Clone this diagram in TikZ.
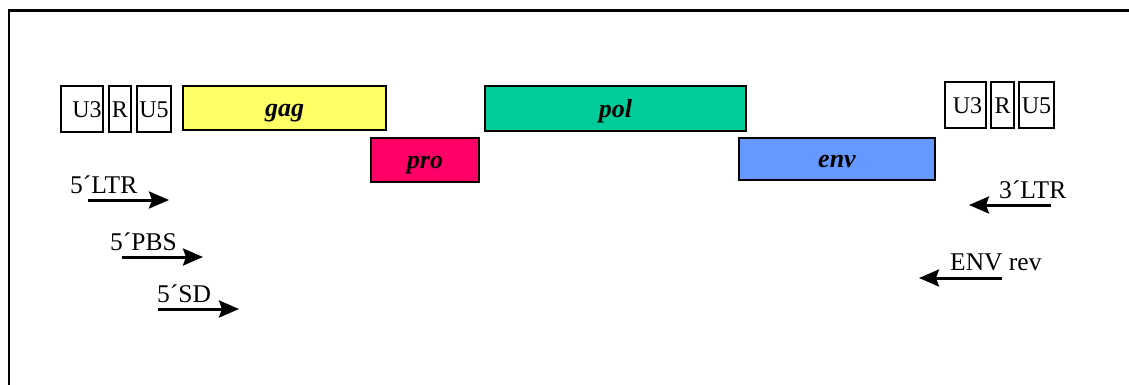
\documentclass[tikz,border=0pt]{standalone}
\usepackage{fontspec}
\setmainfont{Liberation Serif}
\usetikzlibrary{arrows.meta}
\definecolor{gagcol}{HTML}{FFFF66}
\definecolor{procol}{HTML}{FF0066}
\definecolor{polcol}{HTML}{00CC99}
\definecolor{envcol}{HTML}{6699FF}
\tikzset{
  ltrbox/.style={draw=black, line width=2.2pt, fill=white, inner sep=0pt,
    text height=16.6pt, text depth=0pt,
    font=\fontsize{24}{28}\selectfont},
  genebox/.style={draw=black, line width=2.2pt, inner sep=0pt,
    text height=17.5pt, text depth=0pt,
    font=\fontsize{26}{30}\selectfont\bfseries\itshape},
  primer/.style={line width=3pt, -{Stealth[length=20pt,width=17pt,inset=3pt]}},
  plabel/.style={anchor=base west, inner sep=0pt, font=\fontsize{25.5}{30}\selectfont},
}
\begin{document}
\begin{tikzpicture}[x=1pt,y=-1pt]
\useasboundingbox (0,0) rectangle (1129,385);
% outer frame (open to the right and bottom)
\draw[line width=2.2pt] (9,386) -- (9,10.5) -- (1130,10.5);

% 5' LTR
\node[ltrbox, minimum width=42pt, minimum height=46pt] (u3l) at (82,109) {\hspace*{10pt}U3};
\node[ltrbox, minimum width=22pt, minimum height=46pt] (rl)  at (120,109) {R};
\node[ltrbox, minimum width=34pt, minimum height=46pt] (u5l) at (154,109) {U5};

% genes
\node[genebox, fill=gagcol, minimum width=203pt, minimum height=44pt] (gag) at (284.5,108) {gag};
\node[genebox, fill=procol, minimum width=108pt, minimum height=44pt] (pro) at (425,160) {pro};
\node[genebox, fill=polcol, minimum width=261pt, minimum height=45pt] (pol) at (615.5,108.5) {pol};
\node[genebox, fill=envcol, minimum width=196pt, minimum height=42pt] (env) at (837,159) {env};

% 3' LTR
\node[ltrbox, minimum width=41pt, minimum height=46pt] (u3r) at (965.5,105) {\hspace*{4pt}U3};
\node[ltrbox, minimum width=23pt, minimum height=46pt] (rr)  at (1002.5,105) {R};
\node[ltrbox, minimum width=35pt, minimum height=46pt] (u5r) at (1036.5,105) {U5};

% forward primers
\node[plabel] (ltrf) at (70,193) {5´LTR};
\coordinate (ltrfa) at (88,200);  \coordinate (ltrfb) at (169,200);
\draw[primer] (ltrfa) -- (ltrfb);

\node[plabel] (pbsf) at (110,250) {5´PBS};
\coordinate (pbsfa) at (122,257); \coordinate (pbsfb) at (203,257);
\draw[primer] (pbsfa) -- (pbsfb);

\node[plabel] (sdf) at (157,302) {5´SD};
\coordinate (sdfa) at (158,309);  \coordinate (sdfb) at (239,309);
\draw[primer] (sdfa) -- (sdfb);

% reverse primers
\node[plabel] (ltrr) at (999,198) {3´LTR};
\coordinate (ltrra) at (1051,205); \coordinate (ltrrb) at (969,205);
\draw[primer] (ltrra) -- (ltrrb);

\node[plabel] (envr) at (950,270) {ENV rev};
\coordinate (envra) at (1002,278); \coordinate (envrb) at (919,278);
\draw[primer] (envra) -- (envrb);
\end{tikzpicture}
\end{document}
